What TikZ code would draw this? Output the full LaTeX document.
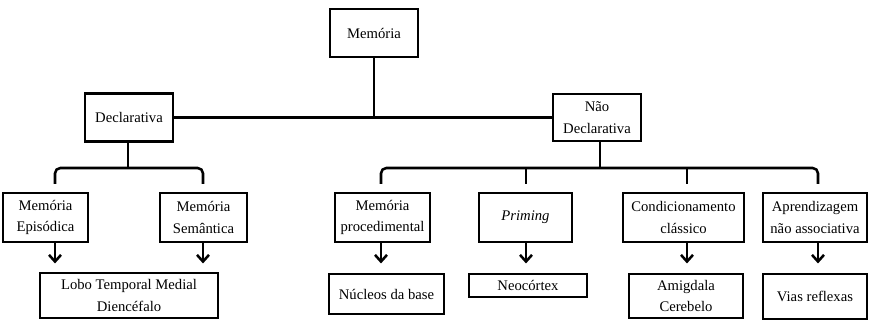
\documentclass[tikz,border=0pt]{standalone}
\usepackage{fontspec}
\setmainfont{Liberation Serif}
\usetikzlibrary{arrows.meta,positioning}
\tikzset{
  box/.style={draw, line width=1.9pt, fill=white, align=center, inner sep=2pt, font=\fontsize{11}{16}\selectfont},
  link/.style={line width=1.9pt},
  bracket/.style={link, rounded corners=4pt},
  down/.style={link, -{Straight Barb[length=5pt,width=9pt,line width=1.9pt]}},
}
\begin{document}
\begin{tikzpicture}[x=0.75pt,y=-0.75pt]
\useasboundingbox (0,0) rectangle (869,320);
\node[box, minimum width=66pt, minimum height=36pt] (mem) at (374,33) {Memória};
\node[box, minimum width=66pt, minimum height=36pt] (dec) at (129,117.5) {Declarativa};
\node[box, minimum width=66pt, minimum height=35pt] (nd) at (597,117.5) {Não\\Declarativa};
\node[box, minimum width=64pt, minimum height=37pt] (epi) at (45.5,217.5) {Memória\\Episódica};
\node[box, minimum width=65pt, minimum height=37pt] (sem) at (203.5,217.5) {Memória\\Semântica};
\node[box, minimum width=71pt, minimum height=37pt] (proc) at (382.5,217.5) {Memória\\procedimental};
\node[box, minimum width=70pt, minimum height=37pt] (prim) at (525.5,217.5) {\textit{Priming}};
\node[box, minimum width=91pt, minimum height=37pt] (cond) at (683.5,217.5) {Condicionamento\\clássico};
\node[box, minimum width=78pt, minimum height=37pt] (apr) at (815,217.5) {Aprendizagem\\não associativa};
\node[box, minimum width=133.5pt, minimum height=34pt] (lt) at (129,295.5) {Lobo Temporal Medial\\Diencéfalo};
\node[box, minimum width=86pt, minimum height=30pt] (nuc) at (386.5,294) {Núcleos da base};
\node[box, minimum width=88.5pt, minimum height=17pt] (neo) at (528,285.5) {Neocórtex};
\node[box, minimum width=85.5pt, minimum height=33pt] (ami) at (686,296) {Amigdala\\Cerebelo};
\node[box, minimum width=78pt, minimum height=34pt] (via) at (815,296.5) {Vias reflexas};
\coordinate (lj) at (128,168);
\coordinate (l1) at (55,184);
\coordinate (l2) at (203,184);
\coordinate (rj) at (600,168);
\coordinate (r1) at (381,184);
\coordinate (r2) at (526,184);
\coordinate (r3) at (687,184);
\coordinate (r4) at (818,184);
\draw[link] (dec.east) -- (nd.west);
\draw[link] (mem.south) -- (mem.south |- dec.east);
\draw[link] (dec.south -| lj) -- (lj);
\draw[bracket] (l1) |- (lj -| l2) -- (l2);
\draw[link] (nd.south -| rj) -- (rj);
\draw[bracket] (r1) |- (rj -| r4) -- (r4);
\draw[link] (r2) -- (r2 |- rj);
\draw[link] (r3) -- (r3 |- rj);
\draw[down] (epi.south -| l1) -- ++(0,20);
\draw[down] (sem.south -| l2) -- ++(0,20);
\draw[down] (proc.south -| r1) -- ++(0,20);
\draw[down] (prim.south -| r2) -- ++(0,20);
\draw[down] (cond.south -| r3) -- ++(0,20);
\draw[down] (apr.south -| r4) -- ++(0,20);
\end{tikzpicture}
\end{document}
